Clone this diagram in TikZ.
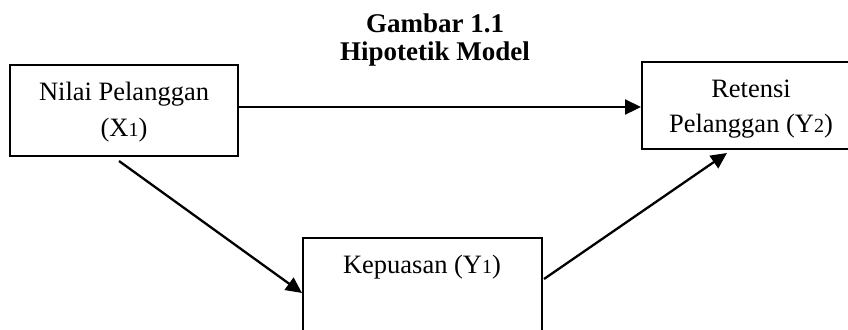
\documentclass[tikz,border=0pt]{standalone}
\usepackage{fontspec}
\setmainfont{Liberation Serif}
\usetikzlibrary{arrows.meta}
\newcommand{\smd}[1]{{\fontsize{10}{12}\selectfont #1}}
\tikzset{
  boxnode/.style={draw, line width=1pt, inner sep=0pt, minimum width=#1},
  txt/.style={anchor=base, inner sep=0pt, font=\fontsize{13.25}{16}\selectfont},
  ttl/.style={anchor=base, inner sep=0pt, font=\fontsize{13.5}{16}\selectfont\bfseries},
  arr/.style={line width=1.15pt, -{Triangle[length=8pt,width=7.5pt]}}
}
\begin{document}
\begin{tikzpicture}[x=0.5pt,y=-0.5pt]
\useasboundingbox (0,0) rectangle (848,329);
\clip (0,0) rectangle (848,329);
% title
\node[ttl] (t1) at (435,32) {Gambar 1.1};
\node[ttl] (t2) at (435,60) {Hipotetik Model};
% boxes
\node[boxnode=114pt, minimum height=45.5pt] (b1) at (124,110.5) {};
\node[boxnode=108pt, minimum height=43.5pt] (b2) at (750,105.5) {};
\node[boxnode=119.5pt, minimum height=56pt] (b3) at (422.5,294) {};
% texts
\node[txt] (l1a) at (124,100) {Nilai Pelanggan};
\node[txt] (l1b) at (124,136) {(X\smd{1})};
\node[txt] (l2a) at (751,97) {Retensi};
\node[txt] (l2b) at (751,132) {Pelanggan (Y\smd{2})};
\node[txt] (l3) at (422,273) {Kepuasan (Y\smd{1})};
% arrows
\draw[arr] ([yshift=1.75pt]b1.east) -- ([yshift=-0.75pt]b2.west);
\draw[arr] ([xshift=-2.5pt,yshift=-2pt]b1.south) -- ([yshift=0.5pt]b3.west);
\draw[arr] ([xshift=0.5pt,yshift=7.5pt]b3.east) -- ([xshift=-11.5pt,yshift=-1.5pt]b2.south);
\end{tikzpicture}
\end{document}
